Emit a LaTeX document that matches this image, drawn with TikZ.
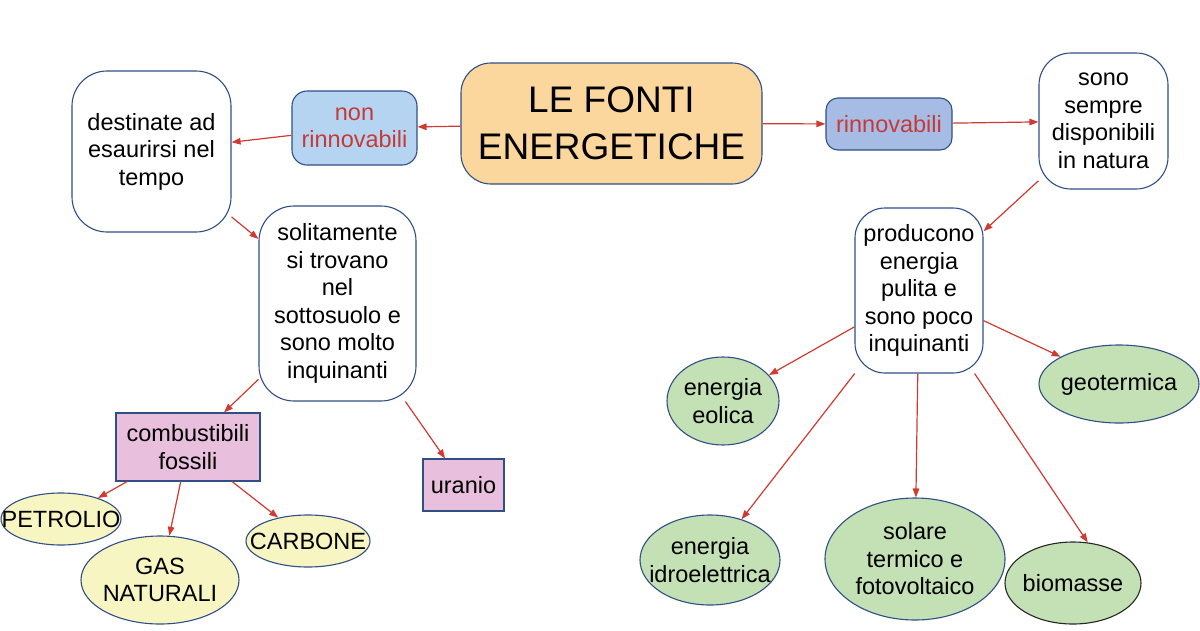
\documentclass[tikz,border=0pt]{standalone}
\usepackage{fontspec}
\setmainfont{Liberation Sans}
\usetikzlibrary{arrows.meta,shapes.geometric}
\definecolor{bordc}{HTML}{2F4F86}
\definecolor{arrc}{HTML}{D03A30}
\definecolor{titlef}{HTML}{FBD79E}
\definecolor{nonrf}{HTML}{B5D4F1}
\definecolor{rinnf}{HTML}{A6BCE5}
\definecolor{redtxt}{HTML}{C63A36}
\definecolor{pinkf}{HTML}{E8C0DD}
\definecolor{yellf}{HTML}{F7F6C2}
\definecolor{greenf}{HTML}{C3E1B5}
\tikzset{
  txt/.style={align=center, inner sep=0pt, font=\fontsize{23.5}{27.5}\selectfont},
  base/.style={draw=bordc, line width=1.1pt, txt},
  rbox/.style={base, rectangle, rounded corners=#1, fill=white},
  rbox/.default=32pt,
  pinkbox/.style={base, rectangle, fill=pinkf},
  ell/.style={draw=bordc, line width=1.1pt, ellipse, inner sep=0pt, label={[txt]center:#1}},
  yell/.style={ell=#1, fill=yellf},
  green/.style={ell=#1, fill=greenf},
  arr/.style={draw=arrc, line width=1.2pt, -{Triangle[length=9pt,width=6.5pt]}},
  sz/.style 2 args={minimum width=#1pt, minimum height=#2pt},
}
\begin{document}
\begin{tikzpicture}[x=1pt,y=-1pt]
\useasboundingbox[fill=white] (0,0) rectangle (1200,630);
% central
\node[rbox=30pt, fill=titlef, sz={301}{121}, font=\fontsize{37}{46.7}\selectfont] (title) at (611.5,123.5) {LE FONTI\\ENERGETICHE};
\node[rbox=15pt, fill=nonrf, sz={125}{74}, text=redtxt] (nonr) at (354.5,128) {non\\rinnovabili};
\node[rbox=12pt, fill=rinnf, sz={126}{52}, text=redtxt] (rinn) at (889,124) {rinnovabili};
% left branch
\node[rbox=35pt, sz={159}{161}] (dest) at (151.5,151.5) {destinate ad\\esaurirsi nel\\tempo};
\node[rbox=35pt, sz={157}{195}] (solit) at (337.5,303.5) {solitamente\\si trovano\\nel\\sottosuolo e\\sono molto\\inquinanti};
\node[pinkbox, sz={144}{68}] (comb) at (188,447) {combustibili\\fossili};
\node[pinkbox, sz={81}{52}] (uranio) at (463.5,485) {uranio};
\node[yell={PETROLIO}, sz={120}{52}] (petr) at (61,519) {};
\node[yell={GAS\\NATURALI}, sz={158}{88}] (gas) at (160,580) {};
\node[yell={CARBONE}, sz={124}{52}] (carb) at (308,541) {};
% right branch
\node[rbox=32pt, sz={129}{136}] (sono) at (1103.5,121) {sono\\sempre\\disponibili\\in natura};
\node[rbox=30pt, sz={128}{165}] (prod) at (919,290.5) {producono\\energia\\pulita e\\sono poco\\inquinanti};
\node[green={energia\\eolica}, sz={112}{88}] (eol) at (723,401) {};
\node[green={geotermica}, sz={160}{78}] (geo) at (1119,384) {};
\node[green={energia\\idroelettrica}, sz={140}{90}] (idro) at (710,560) {};
\node[green={solare\\termico e\\fotovoltaico}, sz={180}{122}] (sol) at (915,559) {};
\node[green={biomasse}, draw=black!85, sz={136}{82}] (bio) at (1073,583) {};
% connectors
\draw[arr] (title) -- (nonr);
\draw[arr] (nonr) -- (dest);
\draw[arr] (title) -- (rinn);
\draw[arr] (rinn) -- (sono);
\draw[arr] (sono) -- (prod);
\draw[arr] (dest) -- (solit);
\draw[arr] (solit) -- (comb);
\draw[arr] (solit) -- (uranio);
\draw[arr] (comb) -- (petr);
\draw[arr] (comb) -- (gas);
\draw[arr] (comb) -- (carb);
\draw[arr] (prod) -- (eol);
\draw[arr] (prod) -- (idro);
\draw[arr] (prod) -- (sol);
\draw[arr] (prod) -- (bio.70);
\draw[arr] (prod) -- (geo);
\end{tikzpicture}
\end{document}
